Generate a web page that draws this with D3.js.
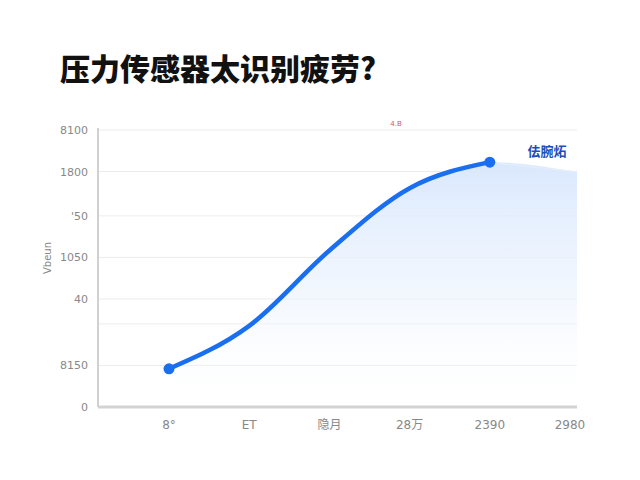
<!DOCTYPE html>
<html><head><meta charset="utf-8">
<script src="https://cdn.jsdelivr.net/npm/d3@7/dist/d3.min.js"></script>
<style>html,body{margin:0;padding:0;background:#fff;}svg{display:block;}</style>
</head><body><svg id="c" width="640" height="480"></svg>
<script>
const title = "压力传感器太识别疲劳?";
const categories = ["8°", "ET", "隐月", "28万", "2390", "2980"];
const seriesValues = [13.8, 29.3, 56.5, 79.0, 88.4];
const areaTail = [84.8];
const yTicks = [0, 15, 30, 39, 54, 69, 85, 100];
const yTickLabels = ["0", "8150", "", "40", "1050", "'50", "1800", "8100"];
const yTitle = "Vbeun";
const seriesLabel = "佉腕炻";
const topNote = "4.B";

const svg = d3.select("#c");
const L = 98, R = 577, T = 130, B = 407;
const x = d3.scalePoint().domain(categories).range([169, 570]);
const y = d3.scaleLinear().domain([0, 100]).range([B, T]);

const defs = svg.append("defs");
const g = defs.append("linearGradient").attr("id","ag").attr("x1",0).attr("y1",0).attr("x2",0).attr("y2",1);
g.append("stop").attr("offset","0%").attr("stop-color","#d8e7fd").attr("stop-opacity",0.95);
g.append("stop").attr("offset","55%").attr("stop-color","#eaf2fe").attr("stop-opacity",0.6);
g.append("stop").attr("offset","100%").attr("stop-color","#ffffff").attr("stop-opacity",0);

svg.append("text").attr("x",60).attr("y",80).attr("font-family","'Noto Sans CJK SC'")
  .attr("font-weight",900).attr("font-size",30).attr("fill","#111").text(title);

// gridlines
svg.append("g").selectAll("line").data(yTicks.filter(d=>d>0)).join("line")
  .attr("x1",L).attr("x2",R).attr("y1",d=>y(d)).attr("y2",d=>y(d))
  .attr("stroke","#ececec").attr("stroke-width",1);

// y labels
svg.append("g").selectAll("text").data(yTicks).join("text")
  .attr("x",88).attr("y",d=>y(d)+4).attr("text-anchor","end")
  .attr("font-family","'DejaVu Sans'").attr("font-size",11).attr("fill","#888")
  .text((d,i)=>yTickLabels[i]);

svg.append("text").attr("transform","translate(51,258) rotate(-90)").attr("text-anchor","middle")
  .attr("font-family","'DejaVu Sans'").attr("font-size",10).attr("fill","#888").text(yTitle);

// area
const lineData = seriesValues.map((v,i)=>({x:x(categories[i]), y:y(v)}));
const areaData = lineData.concat(areaTail.map(v=>({x:R, y:y(v)})));
svg.append("path").datum(areaData)
  .attr("d", d3.area().x(d=>d.x).y0(B).y1(d=>d.y).curve(d3.curveMonotoneX))
  .attr("fill","url(#ag)");
svg.append("path").datum(areaData.slice(seriesValues.length-1))
  .attr("d", d3.line().x(d=>d.x).y(d=>d.y))
  .attr("fill","none").attr("stroke","#e3edfc").attr("stroke-width",1.5);

// axes
svg.append("line").attr("x1",L).attr("x2",L).attr("y1",T-2).attr("y2",B).attr("stroke","#d0d0d0").attr("stroke-width",2);
svg.append("line").attr("x1",L).attr("x2",R).attr("y1",B).attr("y2",B).attr("stroke","#d3d3d3").attr("stroke-width",3);

// x labels
svg.append("g").selectAll("text").data(categories).join("text")
  .attr("x",d=>x(d)).attr("y",429).attr("text-anchor","middle")
  .attr("font-family","'DejaVu Sans','Noto Sans CJK SC'").attr("font-size",12).attr("fill","#888").text(d=>d);

// line
svg.append("path").datum(lineData)
  .attr("d", d3.line().x(d=>d.x).y(d=>d.y).curve(d3.curveMonotoneX))
  .attr("fill","none").attr("stroke","#1a6ef0").attr("stroke-width",4.5).attr("stroke-linecap","round");
svg.append("g").selectAll("circle").data([lineData[0], lineData[lineData.length-1]]).join("circle")
  .attr("cx",d=>d.x).attr("cy",d=>d.y).attr("r",5.5).attr("fill","#1a6ef0");

svg.append("text").attr("x",547).attr("y",156).attr("text-anchor","middle")
  .attr("font-family","'Noto Sans CJK SC'").attr("font-weight",700).attr("font-size",13).attr("fill","#1d4fb8").text(seriesLabel);
svg.append("text").attr("x",396).attr("y",126).attr("text-anchor","middle")
  .attr("font-family","'DejaVu Sans'").attr("font-size",7).attr("fill","#c0606a").text(topNote);
</script></body></html>
